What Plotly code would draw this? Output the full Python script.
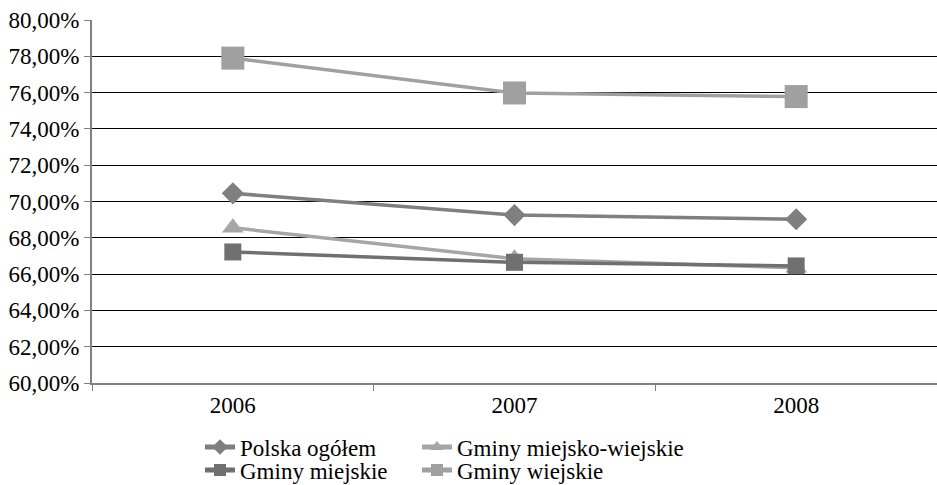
import plotly.graph_objects as go

years = ["2006", "2007", "2008"]
polska = [70.45, 69.25, 69.02]
miejsko_wiejskie = [68.55, 66.85, 66.35]
miejskie = [67.22, 66.65, 66.45]
wiejskie = [77.90, 75.98, 75.78]
y_ticks = [60, 62, 64, 66, 68, 70, 72, 74, 76, 78, 80]
y_tick_labels = ["60,00%", "62,00%", "64,00%", "66,00%", "68,00%", "70,00%",
                 "72,00%", "74,00%", "76,00%", "78,00%", "80,00%"]

FONT = "Liberation Serif"
L, T, B, W, H = 92, 20, 102, 937, 485
PW, PH = W - L, H - T - B

fig = go.Figure()
# name, values, colour, symbol, size, legend id, legend text x (px), legend row y (px)
series = [
    ("Polska ogółem", polska, "#7f7f7f", "diamond", 17, "legend", 240, 447),
    ("Gminy miejsko-wiejskie", miejsko_wiejskie, "#a6a6a6", "triangle-up", 19, "legend2", 457, 447),
    ("Gminy miejskie", miejskie, "#707070", "square", 17, "legend3", 240, 470),
    ("Gminy wiejskie", wiejskie, "#a0a0a0", "square", 23, "legend4", 457, 470),
]
legends = {}
for name, vals, col, sym, size, lg, lx, ly in series:
    fig.add_trace(go.Scatter(
        x=years, y=vals, name=name, mode="lines+markers",
        line=dict(color=col, width=3.5),
        marker=dict(symbol=sym, size=size, color=col, line=dict(width=0)),
        legend=lg,
    ))
    legends[lg] = dict(
        orientation="h", x=(lx - 40 - L) / PW, xanchor="left",
        y=(H - B - ly) / PH, yanchor="middle",
        font=dict(family=FONT, size=23, color="#000000"),
        itemclick=False, itemsizing="constant",
        bgcolor="rgba(0,0,0,0)", borderwidth=0,
    )

fig.update_layout(
    width=W, height=H,
    margin=dict(l=L, r=0, t=T, b=B, pad=0, autoexpand=False),
    paper_bgcolor="white", plot_bgcolor="white",
    font=dict(family=FONT, size=23, color="#000000"),
    showlegend=True,
    **legends,
)
fig.update_xaxes(
    type="category", range=[-0.5, 2.5], showgrid=False,
    showline=True, linecolor="#808080", linewidth=2,
    ticks="outside", tickson="boundaries", ticklen=6, tickcolor="#808080",
    tickfont=dict(family=FONT, size=23, color="#000000"),
)
fig.update_yaxes(
    range=[60, 80], tickvals=y_ticks, ticktext=y_tick_labels,
    showgrid=True, gridcolor="#000000", gridwidth=1,
    showline=True, linecolor="#808080", linewidth=2,
    ticks="outside", ticklen=6, tickcolor="#808080",
    tickfont=dict(family=FONT, size=23, color="#000000"), zeroline=False,
)

fig.write_html("out.html", config={"displayModeBar": False},
               post_script="document.body.style.margin='0';")
